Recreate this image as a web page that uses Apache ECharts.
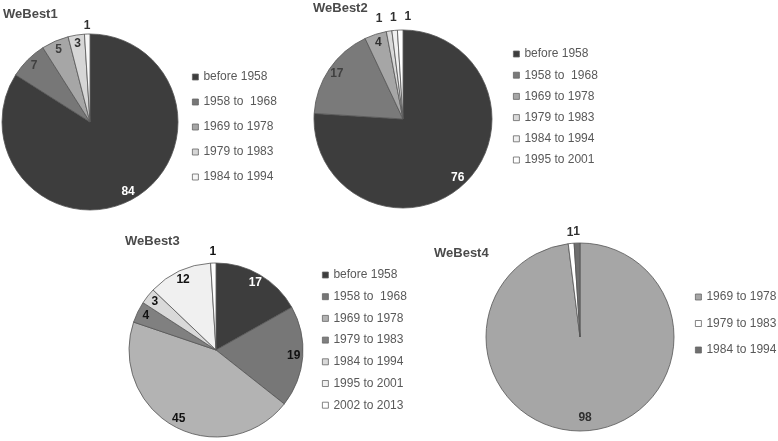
<!DOCTYPE html>
<html>
<head>
<meta charset="utf-8">
<script src="https://cdn.jsdelivr.net/npm/echarts@6/dist/echarts.min.js"></script>
<style>html,body{margin:0;padding:0;background:#fff;}#c{width:778px;height:441px;}</style>
</head>
<body>
<div id="c"></div>
<script>
// ---- data ----
const titles = ['WeBest1', 'WeBest2', 'WeBest3', 'WeBest4'];
const pie1Names = ['before 1958', '1958 to  1968', '1969 to 1978', '1979 to 1983', '1984 to 1994'];
const pie1Values = [84, 7, 5, 3, 1];
const pie2Names = ['before 1958', '1958 to  1968', '1969 to 1978', '1979 to 1983', '1984 to 1994', '1995 to 2001'];
const pie2Values = [76, 17, 4, 1, 1, 1];
const pie3Names = ['before 1958', '1958 to  1968', '1969 to 1978', '1979 to 1983', '1984 to 1994', '1995 to 2001', '2002 to 2013'];
const pie3Values = [17, 19, 45, 4, 3, 12, 1];
const pie4Names = ['1969 to 1978', '1979 to 1983', '1984 to 1994'];
const pie4Values = [98, 1, 1];

// ---- styles ----
const FONT = 'Liberation Sans, Arial, sans-serif';
const pie1Colors = ['#3d3d3d', '#777777', '#a6a6a6', '#d6d6d6', '#f7f7f7'];
const pie2Colors = ['#3d3d3d', '#7a7a7a', '#a6a6a6', '#d9d9d9', '#f0f0f0', '#ffffff'];
const pie3Colors = ['#3d3d3d', '#777777', '#b3b3b3', '#808080', '#d9d9d9', '#f0f0f0', '#ffffff'];
const pie4Colors = ['#a6a6a6', '#ffffff', '#6e6e6e'];
const pie1LabelColors = ['#ffffff', '#404040', '#404040', '#303030', '#303030'];
const pie2LabelColors = ['#ffffff', '#404040', '#303030', '#303030', '#303030', '#303030'];
const pie3LabelColors = ['#ffffff', '#111111', '#111111', '#111111', '#111111', '#111111', '#111111'];
const pie4LabelColors = ['#303030', '#303030', '#303030'];

const pies = [
  {names: pie1Names, values: pie1Values, colors: pie1Colors, lcolors: pie1LabelColors,
   center: [90, 122], r: 88, dIn: 76, dOut: 93, outer: [4], pads: {},
   title: [3, 8], legend: {left: 192, top: 70, gap: 11}},
  {names: pie2Names, values: pie2Values, colors: pie2Colors, lcolors: pie2LabelColors,
   center: [403, 119], r: 89, dIn: 77, dOut: 99, outer: [3, 4, 5], pads: {3: [0, 16, 0, 0], 5: [0, 0, 0, 16]},
   title: [313, 2], legend: {left: 513, top: 47, gap: 7.2}},
  {names: pie3Names, values: pie3Values, colors: pie3Colors, lcolors: pie3LabelColors,
   center: [216, 350], r: 87, dIn: 75, dOut: 95, outer: [6], pads: {},
   title: [125, 235], legend: {left: 322, top: 268, gap: 7.7}},
  {names: pie4Names, values: pie4Values, colors: pie4Colors, lcolors: pie4LabelColors,
   center: [580, 337], r: 94, dIn: 78, dOut: 102, outer: [1, 2], pads: {},
   title: [434, 247], legend: {left: 695, top: 290, gap: 12.5}}
];

const title = [], legend = [], series = [];
pies.forEach((p, k) => {
  title.push({
    text: titles[k], left: p.title[0], top: p.title[1], padding: 0,
    textStyle: {fontFamily: FONT, fontSize: 13, fontWeight: 'bold', color: '#4a4a4a'}
  });
  legend.push({
    orient: 'vertical', left: p.legend.left, top: p.legend.top, padding: 0,
    itemGap: p.legend.gap, itemWidth: 6, itemHeight: 6, icon: 'rect', selectedMode: false,
    textStyle: {fontFamily: FONT, fontSize: 12, color: '#595959', lineHeight: 14},
    data: p.names.map((n, i) => ({name: n, itemStyle: {color: p.colors[i], borderColor: '#666', borderWidth: 0.8}}))
  });
  const base = {
    type: 'pie', center: p.center, startAngle: 90, clockwise: true,
    avoidLabelOverlap: false, minShowLabelAngle: 0, animation: false
  };
  // visible pie
  series.push(Object.assign({}, base, {
    radius: [0, p.r],
    label: {show: false}, labelLine: {show: false},
    emphasis: {disabled: true},
    data: p.values.map((v, i) => ({
      value: v, name: p.names[i],
      itemStyle: {color: p.colors[i], borderColor: '#555', borderWidth: 0.8}
    }))
  }));
  // inner and outer label carriers (transparent sectors)
  [['in', p.dIn], ['out', p.dOut]].forEach(([kind, d]) => {
    series.push(Object.assign({}, base, {
      radius: [0, 2 * d], silent: true, emphasis: {disabled: true},
      itemStyle: {color: 'rgba(0,0,0,0)', borderWidth: 0},
      labelLine: {show: false},
      data: p.values.map((v, i) => {
        const isOut = p.outer.indexOf(i) >= 0;
        const show = (kind === 'out') === isOut;
        return {
          value: v, name: p.names[i],
          label: {
            show: show, position: 'inside', formatter: '{c}',
            fontFamily: FONT, fontSize: 12, fontWeight: 'bold',
            color: p.lcolors[i], padding: p.pads[i] || 0
          }
        };
      })
    }));
  });
});

const chart = echarts.init(document.getElementById('c'), null, {renderer: 'canvas'});
chart.setOption({backgroundColor: '#ffffff', animation: false, title, legend, series});
</script>
</body>
</html>
